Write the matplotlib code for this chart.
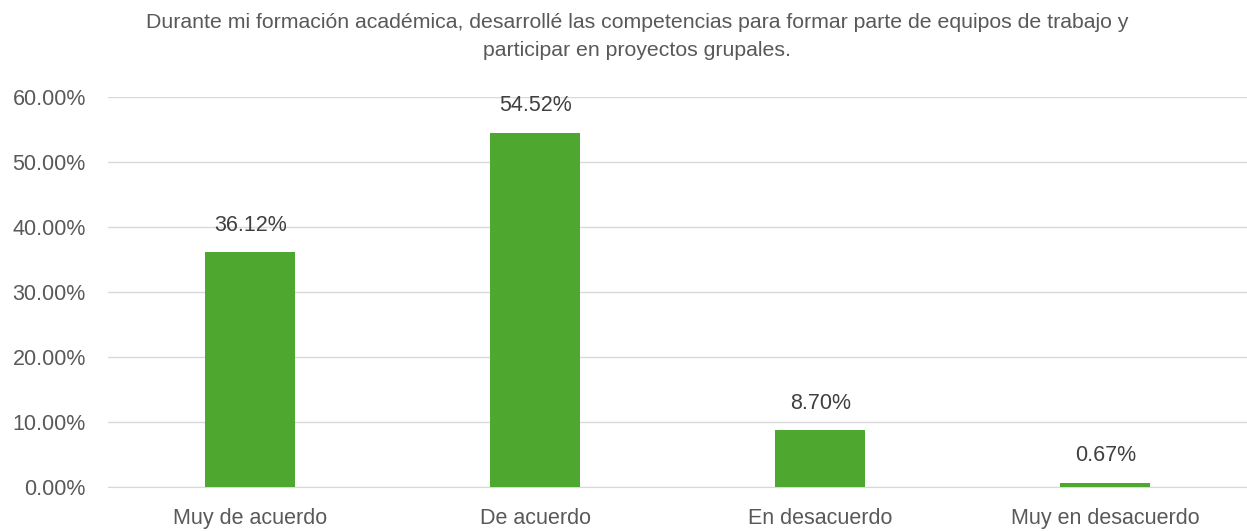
import numpy as np
import matplotlib.pyplot as plt
from matplotlib.ticker import FuncFormatter

categories = ['Muy de acuerdo', 'De acuerdo', 'En desacuerdo', 'Muy en desacuerdo']
values = [36.12, 54.52, 8.70, 0.67]
title = ('Durante mi formación académica, desarrollé las competencias para formar parte de equipos de trabajo y\n'
         'participar en proyectos grupales.')

plt.rcParams['font.family'] = ['Liberation Sans', 'DejaVu Sans']
text_color = '#595959'

fig = plt.figure(figsize=(12.47, 5.31), dpi=100)
ax = fig.add_axes([0.0866, 0.083, 0.914, 0.734])

x = np.arange(len(categories))
bars = ax.bar(x, values, width=0.316, color='#4EA72E', zorder=3)

for xi, v in zip(x, values):
    ax.text(xi, v + 4.2, f'{v:.2f}%', ha='center', va='center', fontsize=15.5, color='#404040')

ax.set_xlim(-0.5, 3.5)
ax.set_ylim(0, 60)
ax.set_yticks(np.arange(0, 61, 10))
ax.yaxis.set_major_formatter(FuncFormatter(lambda v, p: f'{v:.2f}%'))
ax.set_xticks(x)
ax.set_xticklabels(categories)
ax.tick_params(axis='both', length=0, labelsize=15.5, labelcolor=text_color)
ax.tick_params(axis='y', pad=16)
ax.tick_params(axis='x', pad=15)
ax.grid(axis='y', color='#D9D9D9', linewidth=1, zorder=0)
for s in ['top', 'right', 'left']:
    ax.spines[s].set_visible(False)
ax.spines['bottom'].set_color('#D9D9D9')

fig.text(0.511, 0.976, title, ha='center', va='top', fontsize=15.3, color=text_color, linespacing=1.6)

fig.savefig('out.png', dpi=100)
